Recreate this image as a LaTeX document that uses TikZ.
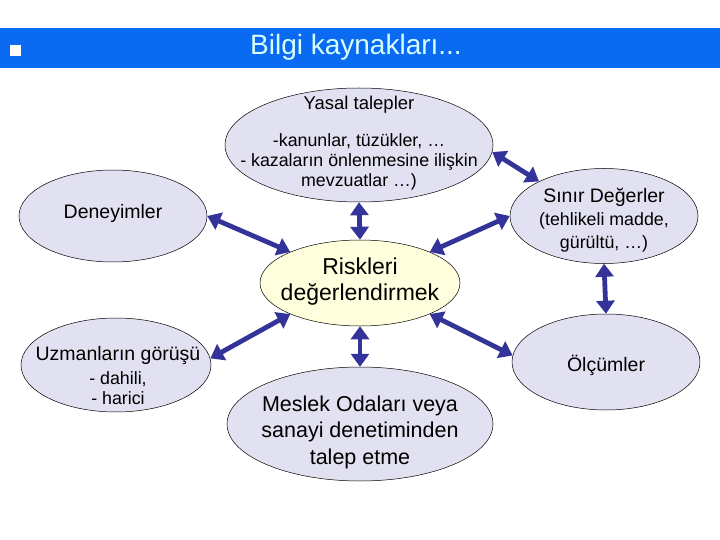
\documentclass[tikz,border=0pt]{standalone}
\usepackage{fontspec}
\setmainfont{Liberation Sans}
\usepackage{xcolor}
\usetikzlibrary{arrows.meta,shapes.geometric}
\definecolor{bannerblue}{RGB}{10,106,242}
\definecolor{titlecyan}{RGB}{214,255,255}
\definecolor{bubble}{RGB}{225,225,242}
\definecolor{centerfill}{RGB}{255,255,222}
\definecolor{linkblue}{RGB}{51,51,153}
\newcommand{\mainsize}{\fontsize{19.5}{23}\selectfont}
\newcommand{\subsize}{\fontsize{17.8}{20}\selectfont}

\begin{document}
\begin{tikzpicture}[
    x=1pt, y=-1pt,
    bubble/.style={ellipse, draw=black, line width=0.5pt, fill=bubble, inner sep=0pt},
    core/.style={bubble, fill=centerfill},
    txt/.style={align=center, inner sep=0pt, font=\mainsize},
    link/.style={{Triangle[length=13pt,width=18pt]}-{Triangle[length=13pt,width=18pt]}, line width=4.8pt, draw=linkblue},
]
\useasboundingbox (0,0) rectangle (720,540);
% Banner
\fill[bannerblue] (0,28) rectangle (720,68);
\fill[white] (10,45) rectangle (21,56);
\node[text=titlecyan, font=\fontsize{28}{32}\selectfont] (title) at (356,47) {Bilgi kaynakları...};

% Nodes
\node[bubble, minimum width=268pt, minimum height=114pt] (yasal) at (359,145) {};
\node[txt, font=\subsize] (yasal-t) at (359,143)
    {{\fontsize{18.5}{22}\selectfont Yasal talepler}\\[17pt]
     -kanunlar, tüzükler, …\\
     - kazaların önlenmesine ilişkin\\
     mevzuatlar …)};
\node[bubble, minimum width=188pt, minimum height=92pt] (deney) at (113,216) {};
\node[txt] (deney-t) at (113,213) {Deneyimler};
\node[core, minimum width=200pt, minimum height=86pt] (risk) at (360,283) {};
\node[txt, font=\fontsize{23}{26}\selectfont] (risk-t) at (360,282) {Riskleri\\değerlendirmek};
\node[bubble, minimum width=188pt, minimum height=95pt] (sinir) at (604,216) {};
\node[txt] (sinir-t) at (604,220)
    {Sınır Değerler\\
     {\subsize (tehlikeli madde,}\\
     {\subsize gürültü, …)}};
\node[bubble, minimum width=188pt, minimum height=96pt] (olcum) at (606,362) {};
\node[txt] (olcum-t) at (606,365) {Ölçümler};
\node[bubble, minimum width=190pt, minimum height=94pt] (uzman) at (116,365) {};
\node[txt, font=\subsize] (uzman-t) at (118,376)
    {{\mainsize Uzmanların görüşü}\\[4pt]
     - dahili,\\
     - harici};
\node[bubble, minimum width=266pt, minimum height=114pt] (meslek) at (360,424) {};
\node[txt, font=\fontsize{21.5}{26.5}\selectfont] (meslek-t) at (360,432)
    {Meslek Odaları veya\\sanayi denetiminden\\talep etme};

% Arrows
\draw[link] (yasal.-3) -- (sinir.152);
\draw[link] (yasal.south) -- (risk.north);
\draw[link] (deney.east) -- (risk.156);
\draw[link] (risk.24) -- (sinir.west);
\draw[link] (risk.204) -- (uzman.4);
\draw[link] (risk.336) -- (olcum.176);
\draw[link] (risk.south) -- (meslek.north);
\draw[link] (sinir.south) -- (olcum.north);

\end{tikzpicture}
\end{document}
